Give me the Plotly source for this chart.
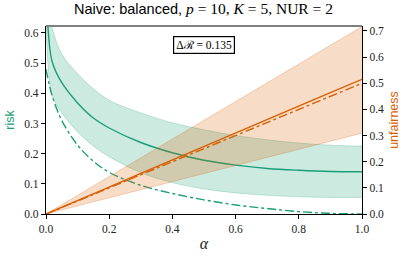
import plotly.graph_objects as go

alpha = [0.0, 0.01, 0.02, 0.05, 0.1, 0.15, 0.2, 0.3, 0.4, 0.5, 0.6, 0.7, 0.8, 0.9, 1.0]

risk_mean = [0.75, 0.57, 0.503, 0.435, 0.368, 0.318, 0.285, 0.237, 0.203, 0.178, 0.162, 0.151, 0.145, 0.141, 0.140]
risk_hi = [0.88, 0.69, 0.615, 0.53, 0.465, 0.415, 0.377, 0.335, 0.302, 0.279, 0.26, 0.246, 0.235, 0.228, 0.225]
risk_lo = [0.62, 0.45, 0.39, 0.335, 0.272, 0.225, 0.19, 0.137, 0.104, 0.083, 0.07, 0.062, 0.057, 0.055, 0.055]
risk_dash = [0.48, 0.43, 0.39, 0.31, 0.228, 0.175, 0.138, 0.095, 0.068, 0.047, 0.03, 0.018, 0.008, 0.002, 0.0]

unf_mean = [0.0, 0.005, 0.010, 0.026, 0.052, 0.077, 0.103, 0.155, 0.206, 0.258, 0.309, 0.361, 0.412, 0.464, 0.515]
unf_dash = [0.0, 0.005, 0.010, 0.025, 0.050, 0.075, 0.100, 0.150, 0.200, 0.250, 0.300, 0.350, 0.400, 0.450, 0.500]
unf_hi = [0.0, 0.007, 0.014, 0.036, 0.072, 0.108, 0.143, 0.215, 0.287, 0.359, 0.430, 0.502, 0.574, 0.645, 0.717]
unf_lo = [0.0, 0.003, 0.006, 0.015, 0.031, 0.046, 0.062, 0.093, 0.124, 0.155, 0.185, 0.216, 0.247, 0.278, 0.309]

x_ticks = [0.0, 0.2, 0.4, 0.6, 0.8, 1.0]
risk_ticks = [0.0, 0.1, 0.2, 0.3, 0.4, 0.5, 0.6]
unf_ticks = [0.0, 0.1, 0.2, 0.3, 0.4, 0.5, 0.6, 0.7]
delta_text = "Δℛ = 0.135"

GREEN = "#1b9e77"
ORANGE = "#d95f02"
SERIF = "Liberation Serif"
SANS = "Liberation Sans"

fig = go.Figure()

# orange band (right axis)
fig.add_trace(go.Scatter(x=alpha, y=unf_hi, yaxis="y2", mode="lines", line=dict(color="rgba(217,95,2,0.3)", width=0.8), showlegend=False, hoverinfo="skip"))
fig.add_trace(go.Scatter(x=alpha, y=unf_lo, yaxis="y2", mode="lines", line=dict(color="rgba(217,95,2,0.3)", width=0.8), fill="tonexty", fillcolor="rgba(217,95,2,0.22)", showlegend=False, hoverinfo="skip"))

# green band (left axis)
fig.add_trace(go.Scatter(x=alpha, y=risk_hi, mode="lines", line=dict(color="rgba(27,158,119,0.3)", width=0.8, shape="spline"), showlegend=False, hoverinfo="skip"))
fig.add_trace(go.Scatter(x=alpha, y=risk_lo, mode="lines", line=dict(color="rgba(27,158,119,0.3)", width=0.8, shape="spline"), fill="tonexty", fillcolor="rgba(27,158,119,0.22)", showlegend=False, hoverinfo="skip"))

fig.add_trace(go.Scatter(x=alpha, y=risk_mean, mode="lines", line=dict(color=GREEN, width=1.4, shape="spline"), showlegend=False))
fig.add_trace(go.Scatter(x=alpha, y=risk_dash, mode="lines", line=dict(color=GREEN, width=1.4, dash="dashdot", shape="spline"), showlegend=False))

fig.add_trace(go.Scatter(x=alpha, y=unf_mean, yaxis="y2", mode="lines", line=dict(color=ORANGE, width=1.4), showlegend=False))
fig.add_trace(go.Scatter(x=alpha, y=unf_dash, yaxis="y2", mode="lines", line=dict(color=ORANGE, width=1.4, dash="dashdot"), showlegend=False))

tickfont = dict(family=SERIF, size=11.5, color="#222")

title_math = ("<span style=\"font-family:'Liberation Serif';font-size:15.5px\">"
              "<i>p</i>&nbsp;=&nbsp;10,&nbsp;<i>K</i>&nbsp;=&nbsp;5,&nbsp;NUR&nbsp;=&nbsp;2</span>")

fig.update_layout(
    width=407, height=256,
    margin=dict(l=46, r=45, t=26, b=42),
    paper_bgcolor="white", plot_bgcolor="white",
    title=dict(
        text="Naive: balanced, " + title_math,
        x=0.5, xanchor="center", y=0.985, yanchor="top",
        font=dict(family=SANS, size=14.5, color="black"),
    ),
    xaxis=dict(
        range=[0, 1], tickvals=x_ticks, ticktext=[f"{v:.1f}" for v in x_ticks],
        showgrid=False, zeroline=False, showline=True, linecolor="black", linewidth=1.2,
        ticks="outside", ticklen=4, tickcolor="black", tickfont=tickfont, automargin=False,
        title=dict(text="<i>α</i>", font=dict(family=SERIF, size=16, color="#222"), standoff=3),
    ),
    yaxis=dict(
        range=[0, 0.623], tickvals=risk_ticks, ticktext=[f"{v:.1f}" for v in risk_ticks],
        showgrid=False, zeroline=False, showline=True, linecolor="black", linewidth=1.2,
        ticks="outside", ticklen=4, tickcolor="black", tickfont=tickfont, automargin=False,
        title=dict(text="risk", font=dict(family=SANS, size=12.5, color=GREEN), standoff=6),
    ),
    yaxis2=dict(
        range=[0, 0.719], tickvals=unf_ticks, ticktext=[f"{v:.1f}" for v in unf_ticks],
        overlaying="y", side="right",
        showgrid=False, zeroline=False, showline=True, linecolor="black", linewidth=1.2,
        ticks="outside", ticklen=4, tickcolor="black", tickfont=tickfont, automargin=False,
        title=dict(text="unfairness", font=dict(family=SANS, size=12.5, color=ORANGE), standoff=6),
    ),
    shapes=[dict(type="line", xref="paper", yref="paper", x0=0, x1=1, y0=1, y1=1,
                 line=dict(color="#808080", width=2))],
    annotations=[dict(
        text=delta_text, x=0.5, xref="x", y=0.9, yref="paper", xanchor="center", yanchor="middle",
        showarrow=False, font=dict(family=SERIF, size=11.5, color="black"),
        bordercolor="black", borderwidth=1.2, borderpad=2, bgcolor="white",
    )],
)

fig.write_html("out.html", config={"displayModeBar": False},
               post_script="document.body.style.margin='0';document.body.style.padding='0';")
